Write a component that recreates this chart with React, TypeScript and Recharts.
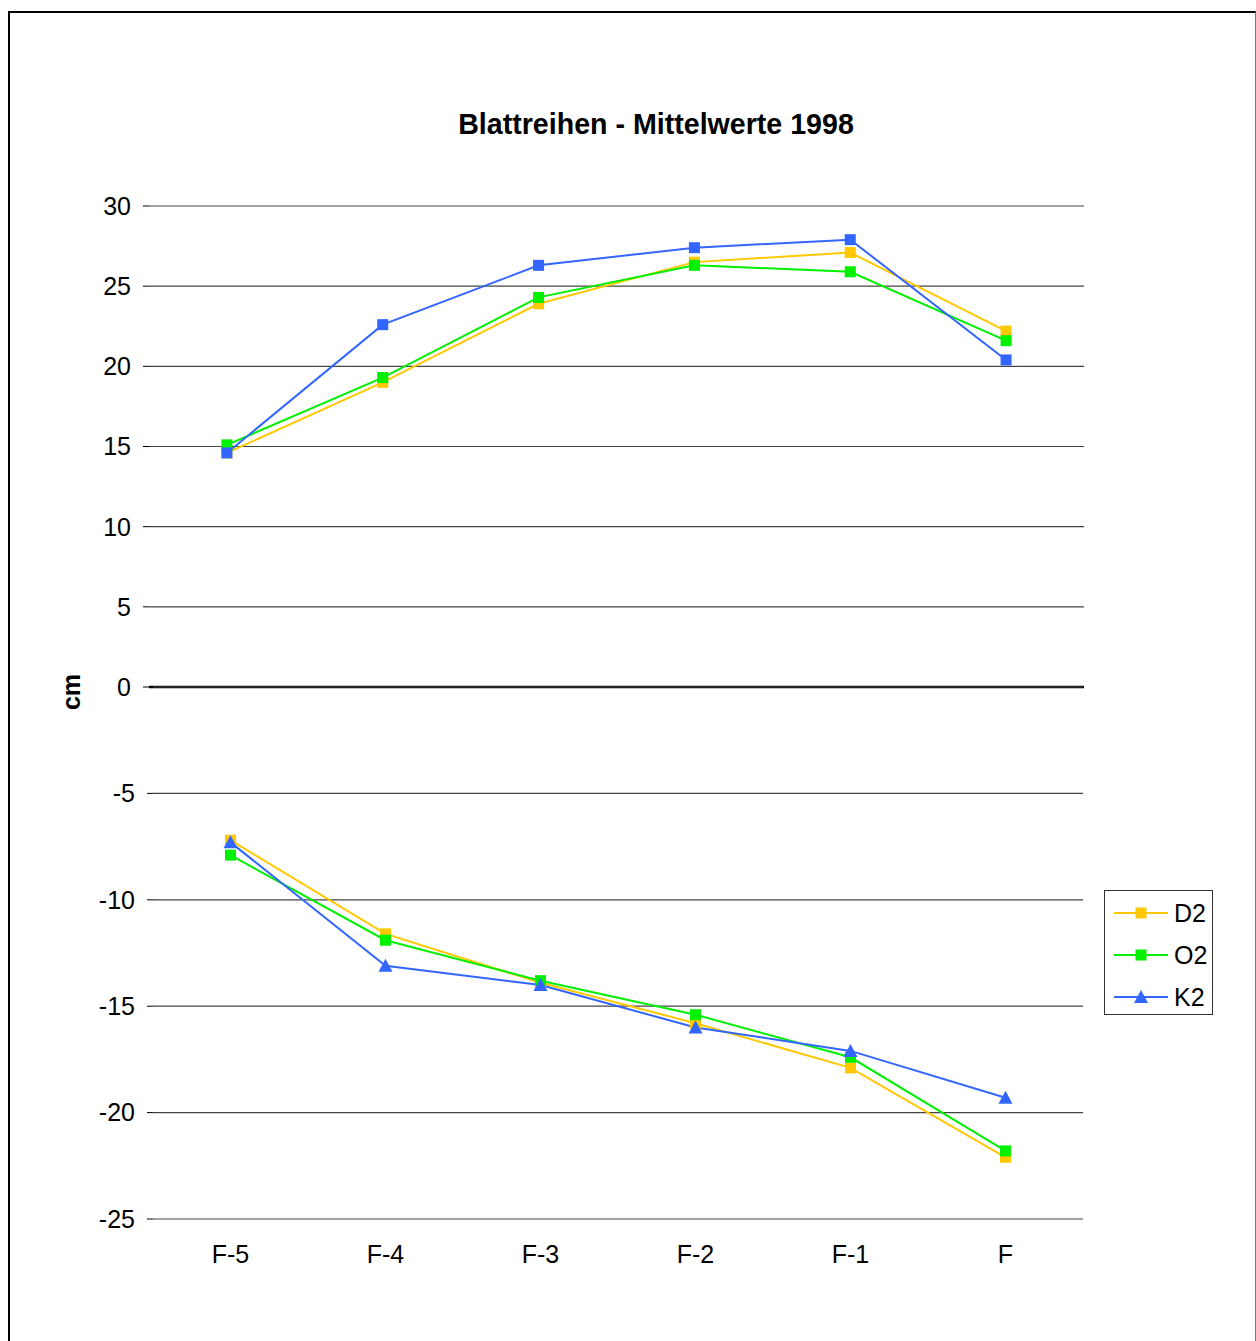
import React from 'react';
import { LineChart, Line, XAxis, YAxis, CartesianGrid, ReferenceLine, Legend } from 'recharts';

const FONT = '"Liberation Sans", Arial, Helvetica, sans-serif';

const categories = ['F-5', 'F-4', 'F-3', 'F-2', 'F-1', 'F'];

// Upper leaf row (positive values, cm)
const d2Upper = [14.6, 19.0, 23.9, 26.5, 27.1, 22.2];
const o2Upper = [15.1, 19.3, 24.3, 26.3, 25.9, 21.6];
const k2Upper = [14.6, 22.6, 26.3, 27.4, 27.9, 20.4];

// Lower leaf row (negative values, cm)
const d2Lower = [-7.2, -11.6, -13.9, -15.8, -17.9, -22.1];
const o2Lower = [-7.9, -11.9, -13.8, -15.4, -17.4, -21.8];
const k2Lower = [-7.3, -13.1, -14.0, -16.0, -17.1, -19.3];

const upperTicks = [0, 5, 10, 15, 20, 25, 30];
const lowerTicks = [-25, -20, -15, -10, -5];

const SERIES = ['D2', 'O2', 'K2'];
const COLORS: Record<string, string> = { D2: '#FFC800', O2: '#00F000', K2: '#3366FF' };
const LEGEND_SHAPES: Record<string, string> = { D2: 'square', O2: 'square', K2: 'triangle' };

const upperData = categories.map((cat, i) => ({ cat, D2: d2Upper[i], O2: o2Upper[i], K2: k2Upper[i] }));
const lowerData = categories.map((cat, i) => ({ cat, D2: d2Lower[i], O2: o2Lower[i], K2: k2Lower[i] }));

const tickStyle = { fontSize: 25, fill: '#000', fontFamily: FONT };

const squareDot = (color: string) => (props: any) => {
  const { cx, cy, index } = props;
  if (cx == null || cy == null) return <g key={`sq-${color}-${index}`} />;
  return <rect key={`sq-${color}-${index}`} x={cx - 5.5} y={cy - 5.5} width={11} height={11} fill={color} />;
};

const triangleDot = (color: string) => (props: any) => {
  const { cx, cy, index } = props;
  if (cx == null || cy == null) return <g key={`tr-${color}-${index}`} />;
  return (
    <polygon
      key={`tr-${color}-${index}`}
      points={`${cx},${cy - 7} ${cx + 7},${cy + 6} ${cx - 7},${cy + 6}`}
      fill={color}
    />
  );
};

const LegendBox = (props: any) => {
  const payload = [...(props.payload || [])].sort(
    (a: any, b: any) => SERIES.indexOf(String(a.value)) - SERIES.indexOf(String(b.value))
  );
  return (
    <div
      style={{
        boxSizing: 'border-box',
        width: 109,
        height: 125,
        border: '1px solid #333',
        background: '#fff',
        paddingTop: 1,
        fontFamily: FONT,
      }}
    >
      {payload.map((item: any) => {
        const name = String(item.value);
        const color = item.color;
        return (
          <div key={name} style={{ display: 'flex', alignItems: 'center', height: 42, paddingLeft: 9 }}>
            <svg width={54} height={16} style={{ display: 'block' }}>
              <line x1={0} y1={8} x2={54} y2={8} stroke={color} strokeWidth={2} />
              {LEGEND_SHAPES[name] === 'triangle' ? (
                <polygon points="27,1 34,14 20,14" fill={color} />
              ) : (
                <rect x={21.5} y={2.5} width={11} height={11} fill={color} />
              )}
            </svg>
            <span style={{ marginLeft: 6, fontSize: 25, lineHeight: '25px', color: '#000' }}>{name}</span>
          </div>
        );
      })}
    </div>
  );
};

export default function App() {
  return (
    <div
      style={{
        position: 'fixed',
        left: 0,
        top: 0,
        width: 1256,
        height: 1341,
        overflow: 'hidden',
        background: '#fff',
        fontFamily: FONT,
      }}
    >
      {/* outer frame */}
      <div
        style={{
          position: 'absolute',
          left: 8,
          top: 11,
          width: 1248,
          height: 1340,
          boxSizing: 'border-box',
          borderTop: '2px solid #000',
          borderLeft: '2px solid #000',
          borderRight: '1px solid #777',
        }}
      />

      {/* title */}
      <div
        style={{
          position: 'absolute',
          left: 356,
          top: 110,
          width: 600,
          textAlign: 'center',
          fontSize: 28.6,
          lineHeight: '28px',
          fontWeight: 'bold',
          color: '#000',
        }}
      >
        Blattreihen - Mittelwerte 1998
      </div>

      {/* y axis title */}
      <div
        style={{
          position: 'absolute',
          left: 71,
          top: 692,
          transform: 'translate(-50%, -50%) rotate(-90deg)',
          fontSize: 25,
          lineHeight: '25px',
          fontWeight: 'bold',
          color: '#000',
          whiteSpace: 'nowrap',
        }}
      >
        cm
      </div>

      {/* upper half: positive values */}
      <div style={{ position: 'absolute', left: 0, top: 186 }}>
        <LineChart width={1256} height={521} data={upperData} margin={{ top: 20, right: 172, bottom: 20, left: 0 }}>
          <CartesianGrid vertical={false} stroke="#444" strokeWidth={1.2} />
          <XAxis dataKey="cat" type="category" scale="band" hide />
          <YAxis
            type="number"
            domain={[0, 30]}
            ticks={upperTicks}
            width={149}
            axisLine={false}
            tickLine={{ stroke: '#000' }}
            tickSize={6}
            tickMargin={12}
            tick={tickStyle}
            interval={0}
          />
          <ReferenceLine y={0} stroke="#000" strokeWidth={2.6} />
          <Line dataKey="D2" name="D2" stroke={COLORS.D2} strokeWidth={2} dot={squareDot(COLORS.D2)} activeDot={false} isAnimationActive={false} />
          <Line dataKey="O2" name="O2" stroke={COLORS.O2} strokeWidth={2} dot={squareDot(COLORS.O2)} activeDot={false} isAnimationActive={false} />
          <Line dataKey="K2" name="K2" stroke={COLORS.K2} strokeWidth={2} dot={squareDot(COLORS.K2)} activeDot={false} isAnimationActive={false} />
        </LineChart>
      </div>

      {/* lower half: negative values */}
      <div style={{ position: 'absolute', left: 0, top: 667 }}>
        <LineChart width={1256} height={612} data={lowerData} margin={{ top: 20, right: 173, bottom: 0, left: 0 }}>
          <CartesianGrid vertical={false} stroke="#444" strokeWidth={1.2} />
          <XAxis
            dataKey="cat"
            type="category"
            scale="band"
            height={60}
            axisLine={false}
            tickLine={false}
            tickSize={0}
            tickMargin={26}
            tick={tickStyle}
            interval={0}
          />
          <YAxis
            type="number"
            domain={[-25, 0]}
            ticks={lowerTicks}
            width={153}
            axisLine={false}
            tickLine={{ stroke: '#000' }}
            tickSize={6}
            tickMargin={12}
            tick={tickStyle}
            interval={0}
          />
          <Legend
            layout="vertical"
            align="center"
            verticalAlign="middle"
            content={LegendBox}
            wrapperStyle={{ position: 'absolute', left: 1104, top: 223, width: 109, height: 125 }}
          />
          <Line dataKey="D2" name="D2" stroke={COLORS.D2} strokeWidth={2} dot={squareDot(COLORS.D2)} activeDot={false} isAnimationActive={false} />
          <Line dataKey="O2" name="O2" stroke={COLORS.O2} strokeWidth={2} dot={squareDot(COLORS.O2)} activeDot={false} isAnimationActive={false} />
          <Line dataKey="K2" name="K2" stroke={COLORS.K2} strokeWidth={2} dot={triangleDot(COLORS.K2)} activeDot={false} isAnimationActive={false} />
        </LineChart>
      </div>
    </div>
  );
}
